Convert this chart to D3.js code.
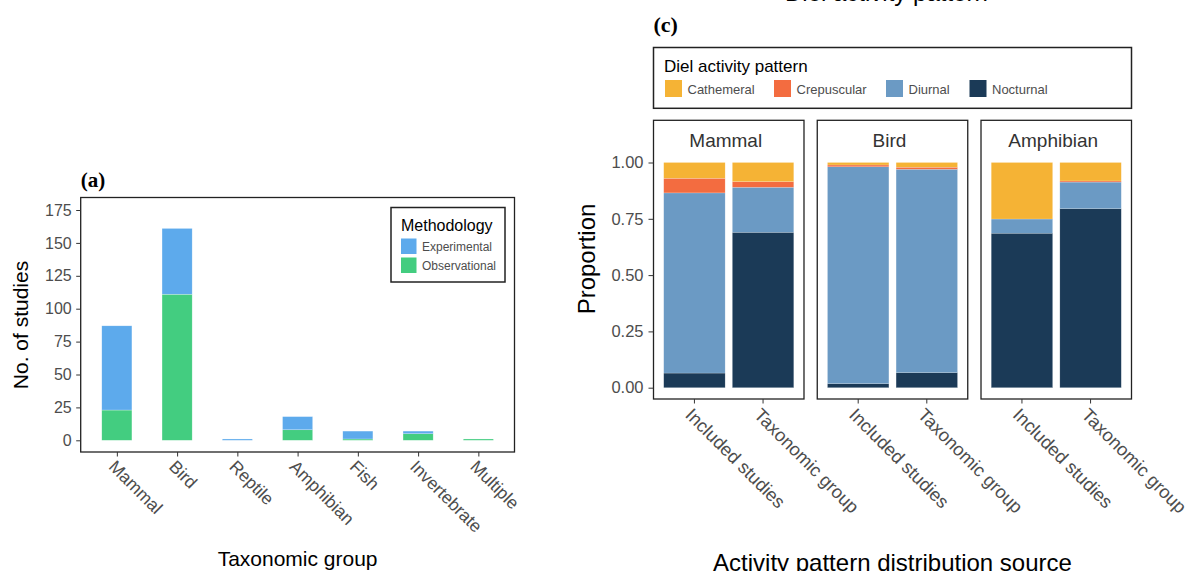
<!DOCTYPE html>
<html>
<head>
<meta charset="utf-8">
<script src="https://cdn.jsdelivr.net/npm/d3@7"></script>
<style>
  html, body { margin: 0; padding: 0; background: #fff; }
  svg { display: block; font-family: "Liberation Sans", Arial, sans-serif; }
</style>
</head>
<body>
<svg width="1191" height="571"></svg>
<script>
// ---- data: panel (a) ----
const taxa = ['Mammal', 'Bird', 'Reptile', 'Amphibian', 'Fish', 'Invertebrate', 'Multiple'];
const observational = [23, 111, 0, 8, 1, 5, 1];
const experimental = [64, 50, 1, 10, 6, 2, 0];
const countTicks = [0, 25, 50, 75, 100, 125, 150, 175];

// ---- data: panel (c) ----
const facets = ['Mammal', 'Bird', 'Amphibian'];
const sources = ['Included studies', 'Taxonomic group'];
const patterns = ['Cathemeral', 'Crepuscular', 'Diurnal', 'Nocturnal'];
// one value per facet x source, in order Mammal/Inc, Mammal/Tax, Bird/Inc, Bird/Tax, Amph/Inc, Amph/Tax
const nocturnal = [0.065, 0.69, 0.018, 0.067, 0.686, 0.795];
const diurnal = [0.80, 0.20, 0.963, 0.903, 0.063, 0.118];
const crepuscular = [0.065, 0.025, 0.008, 0.009, 0, 0.005];
const cathemeral = [0.07, 0.085, 0.011, 0.021, 0.251, 0.082];
const propTicks = [0, 0.25, 0.5, 0.75, 1];

const svg = d3.select('svg');
const tickGrey = '#4d4d4d';

// =================== panel (a) ===================
const a = { left: 80.7, right: 514.5, top: 197.5, bottom: 452 };

const xA = d3.scalePoint().domain(taxa).range([a.left, a.right]).padding(0.6);
const yA = d3.scaleLinear().domain([0, 175]).range([440.3, 210]);
const barW = xA.step() * 0.5;

const methColour = { Experimental: '#5daaec', Observational: '#43cd80' };
const rowsA = taxa.map((t, i) => ({ taxon: t, Observational: observational[i], Experimental: experimental[i] }));
const stackA = d3.stack().keys(['Observational', 'Experimental'])(rowsA);

const gA = svg.append('g').attr('class', 'panel-a');

gA.selectAll('.layer')
  .data(stackA)
  .enter().append('g')
    .attr('class', 'layer')
    .attr('fill', d => methColour[d.key])
  .selectAll('rect')
  .data(d => d)
  .enter().append('rect')
    .attr('x', d => xA(d.data.taxon) - barW / 2)
    .attr('width', barW)
    .attr('y', d => yA(d[1]))
    .attr('height', d => yA(d[0]) - yA(d[1]))
    .attr('stroke', '#fff')
    .attr('stroke-opacity', 0.5)
    .attr('stroke-width', 0.5);

gA.append('rect')
  .attr('x', a.left).attr('y', a.top)
  .attr('width', a.right - a.left).attr('height', a.bottom - a.top)
  .attr('fill', 'none').attr('stroke', '#222').attr('stroke-width', 1.3);

const yAxisA = gA.append('g')
  .attr('transform', 'translate(' + a.left + ',0)')
  .call(d3.axisLeft(yA).tickValues(countTicks).tickSize(4.5).tickPadding(4.5));
yAxisA.select('.domain').remove();
yAxisA.selectAll('line').attr('stroke', '#333');
yAxisA.selectAll('text').attr('fill', tickGrey).style('font-size', '16px');

const xAxisA = gA.append('g')
  .attr('transform', 'translate(0,' + a.bottom + ')')
  .call(d3.axisBottom(xA).tickSize(4.5).tickPadding(0));
xAxisA.select('.domain').remove();
xAxisA.selectAll('line').attr('stroke', '#333');
xAxisA.selectAll('text')
  .attr('fill', tickGrey).style('font-size', '17.5px')
  .attr('x', 0).attr('y', 0).attr('dy', '0.78em')
  .attr('text-anchor', 'start')
  .attr('transform', 'translate(0,6) rotate(45)');

gA.append('text')
  .attr('transform', 'translate(28,325) rotate(-90)')
  .attr('text-anchor', 'middle')
  .style('font-size', '21px')
  .text('No. of studies');

gA.append('text')
  .attr('x', (a.left + a.right) / 2).attr('y', 566)
  .attr('text-anchor', 'middle')
  .style('font-size', '21px')
  .text('Taxonomic group');

gA.append('text')
  .attr('x', a.left).attr('y', 187)
  .style('font-family', '"Liberation Serif", "Times New Roman", serif')
  .style('font-weight', 'bold').style('font-size', '21px')
  .text('(a)');

// legend (a)
const legA = gA.append('g').attr('transform', 'translate(391,207.5)');
legA.append('rect').attr('width', 114).attr('height', 74.5)
  .attr('fill', '#fff').attr('stroke', '#222').attr('stroke-width', 1.5);
legA.append('text').attr('x', 10).attr('y', 23).style('font-size', '16px').text('Methodology');
['Experimental', 'Observational'].forEach((k, i) => {
  const row = legA.append('g').attr('transform', 'translate(10,' + (31 + i * 19) + ')');
  row.append('rect').attr('width', 15.5).attr('height', 15.5).attr('fill', methColour[k]);
  row.append('text').attr('x', 21).attr('y', 12).attr('fill', tickGrey)
    .style('font-size', '12px').text(k);
});

// =================== panel (c) ===================
const c = { left: 653.5, right: 1131.5, top: 120.3, bottom: 399 };

const patColour = {
  Cathemeral: '#f5b335',
  Crepuscular: '#f36c40',
  Diurnal: '#6b9ac4',
  Nocturnal: '#1b3a57'
};

const facetX = d3.scaleBand().domain(facets).range([c.left, c.right]).paddingInner(0.081);
const xC = d3.scaleBand().domain(sources).range([0, facetX.bandwidth()])
  .paddingInner(0.105).paddingOuter(0.149);
const yC = d3.scaleLinear().domain([0, 1]).range([387.7, 162.5]);

const rowsC = [];
facets.forEach((f, fi) => {
  sources.forEach((s, si) => {
    const i = fi * sources.length + si;
    rowsC.push({
      facet: f, source: s,
      Nocturnal: nocturnal[i], Diurnal: diurnal[i],
      Crepuscular: crepuscular[i], Cathemeral: cathemeral[i]
    });
  });
});
const stackC = d3.stack().keys(['Nocturnal', 'Diurnal', 'Crepuscular', 'Cathemeral']);

const gC = svg.append('g').attr('class', 'panel-c');

const facet = gC.selectAll('.facet')
  .data(facets)
  .enter().append('g')
    .attr('class', 'facet')
    .attr('transform', d => 'translate(' + facetX(d) + ',0)');

facet.each(function (f) {
  const g = d3.select(this);
  const series = stackC(rowsC.filter(r => r.facet === f));

  g.selectAll('.layer')
    .data(series)
    .enter().append('g')
      .attr('class', 'layer')
      .attr('fill', d => patColour[d.key])
    .selectAll('rect')
    .data(d => d)
    .enter().append('rect')
      .attr('x', d => xC(d.data.source))
      .attr('width', xC.bandwidth())
      .attr('y', d => yC(d[1]))
      .attr('height', d => yC(d[0]) - yC(d[1]))
      .attr('stroke', '#fff')
      .attr('stroke-opacity', 0.35)
      .attr('stroke-width', 0.5);

  g.append('rect')
    .attr('x', 0).attr('y', c.top)
    .attr('width', facetX.bandwidth()).attr('height', c.bottom - c.top)
    .attr('fill', 'none').attr('stroke', '#222').attr('stroke-width', 1.3);

  g.append('text')
    .attr('x', facetX.bandwidth() / 2 - 3).attr('y', 146.5)
    .attr('text-anchor', 'middle')
    .attr('fill', '#333')
    .style('font-size', '19px')
    .text(f);

  const xAxis = g.append('g')
    .attr('transform', 'translate(0,' + c.bottom + ')')
    .call(d3.axisBottom(xC).tickSize(4.5).tickPadding(0));
  xAxis.select('.domain').remove();
  xAxis.selectAll('line').attr('stroke', '#333');
  xAxis.selectAll('text')
    .attr('fill', tickGrey).style('font-size', '18.3px')
    .attr('x', 0).attr('y', 0).attr('dy', '0.78em')
    .attr('text-anchor', 'start')
    .attr('transform', 'translate(0,7) rotate(45)');
});

const yAxisC = gC.append('g')
  .attr('transform', 'translate(' + c.left + ',0)')
  .call(d3.axisLeft(yC).tickValues(propTicks).tickFormat(d3.format('.2f')).tickSize(5).tickPadding(5));
yAxisC.select('.domain').remove();
yAxisC.selectAll('line').attr('stroke', '#333');
yAxisC.selectAll('text').attr('fill', tickGrey).style('font-size', '16.5px');

gC.append('text')
  .attr('transform', 'translate(595,259) rotate(-90)')
  .attr('text-anchor', 'middle')
  .style('font-size', '24px')
  .text('Proportion');

gC.append('text')
  .attr('x', (c.left + c.right) / 2).attr('y', 571)
  .attr('text-anchor', 'middle')
  .style('font-size', '24px')
  .text('Activity pattern distribution source');

gC.append('text')
  .attr('x', c.left).attr('y', 32)
  .style('font-family', '"Liberation Serif", "Times New Roman", serif')
  .style('font-weight', 'bold').style('font-size', '22px')
  .text('(c)');

// panel title of the plot above, cropped off at the top edge
gC.append('text')
  .attr('x', 785).attr('y', 1)
  .style('font-size', '24px')
  .text('Diel activity pattern');

// legend (c)
const legC = gC.append('g').attr('transform', 'translate(' + c.left + ',47.5)');
legC.append('rect').attr('width', c.right - c.left).attr('height', 60.8)
  .attr('fill', '#fff').attr('stroke', '#222').attr('stroke-width', 1.5);
legC.append('text').attr('x', 10.5).attr('y', 24).style('font-size', '17px').text('Diel activity pattern');
const keyX = [11.5, 120.5, 232.5, 316];
patterns.forEach((p, i) => {
  const k = legC.append('g').attr('transform', 'translate(' + keyX[i] + ',32.5)');
  k.append('rect').attr('width', 17).attr('height', 17).attr('fill', patColour[p]);
  k.append('text').attr('x', 22.5).attr('y', 13.5).attr('fill', tickGrey)
    .style('font-size', '13px').text(p);
});
</script>
</body>
</html>
